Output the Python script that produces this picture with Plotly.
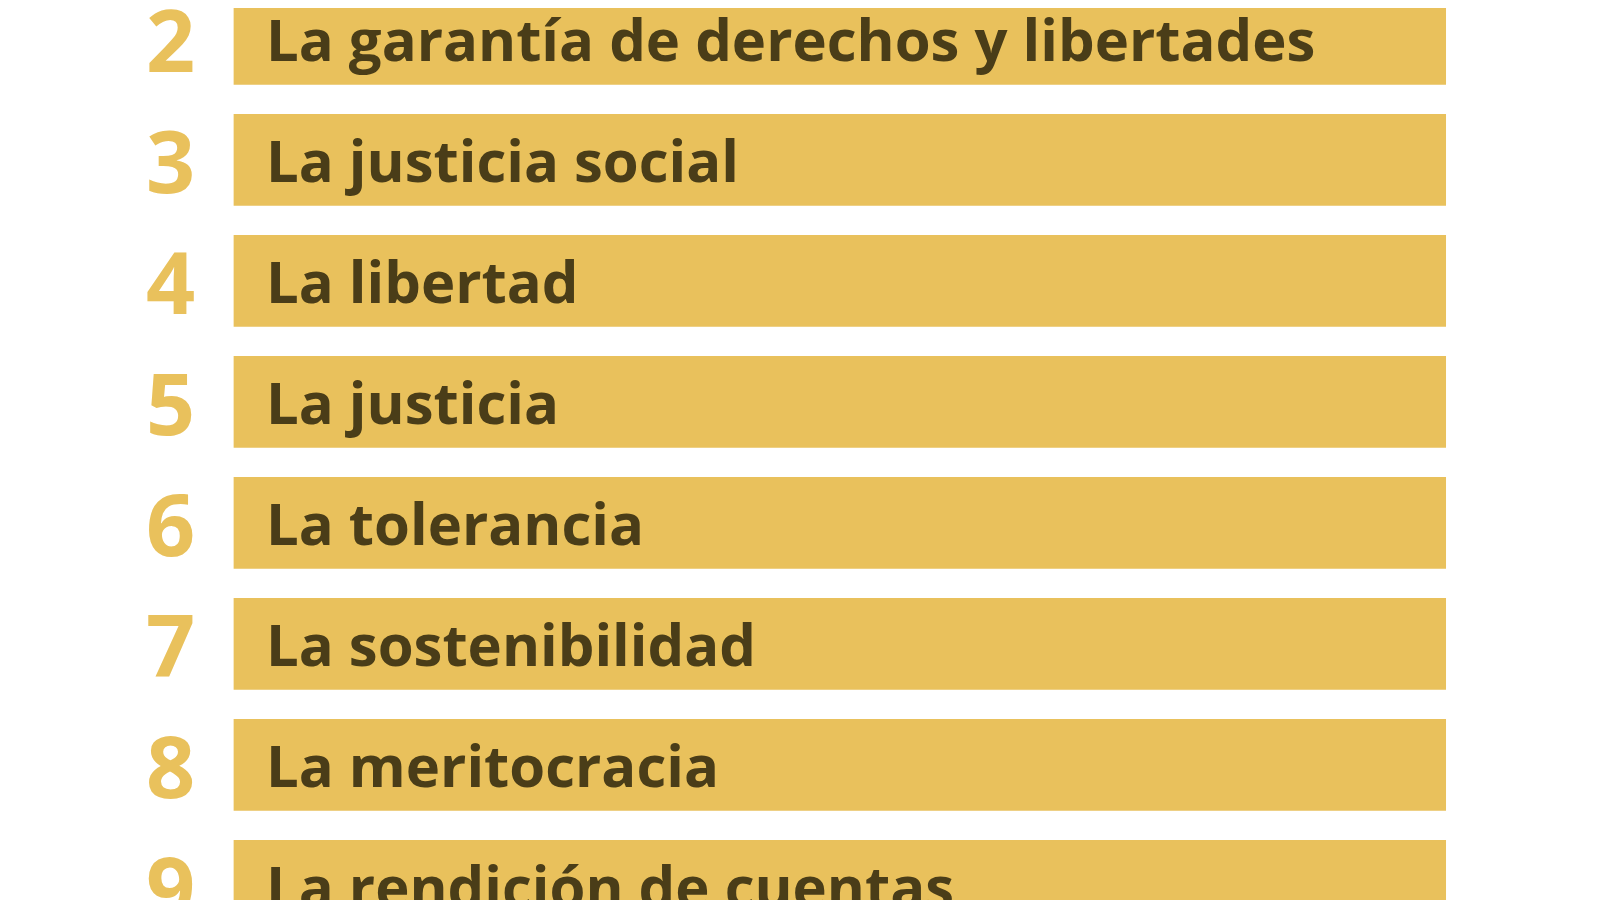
import plotly.graph_objects as go

ranks = [2, 3, 4, 5, 6, 7, 8, 9]
labels = [
    "La garantía de derechos y libertades",
    "La justicia social",
    "La libertad",
    "La justicia",
    "La tolerancia",
    "La sostenibilidad",
    "La meritocracia",
    "La rendición de cuentas",
]
values = [1] * len(ranks)

bar_color = "#e9c15c"
num_color = "#e9c15c"
text_color = "#4a3d18"

fig = go.Figure(go.Bar(
    x=values, y=ranks, orientation="h", base=0,
    width=0.76, marker=dict(color=bar_color, line=dict(width=0)),
    hoverinfo="skip",
))

for r, lab in zip(ranks, labels):
    fig.add_annotation(x=-0.052, y=r, text=str(r), showarrow=False,
                       xanchor="center", yanchor="middle",
                       font=dict(family="Open Sans", size=86, color=num_color, weight="bold"))
    fig.add_annotation(x=0.025, y=r, text=lab, showarrow=False,
                       xanchor="left", yanchor="middle",
                       font=dict(family="Open Sans", size=58, color=text_color, weight="bold"))

fig.update_layout(
    width=1600, height=900,
    margin=dict(l=0, r=0, t=0, b=0),
    paper_bgcolor="white", plot_bgcolor="white",
    showlegend=False,
    xaxis=dict(range=[-0.1861, 1.1336], visible=False),
    yaxis=dict(range=[9.183, 1.745], visible=False),
)

fig.write_html("out.html")
